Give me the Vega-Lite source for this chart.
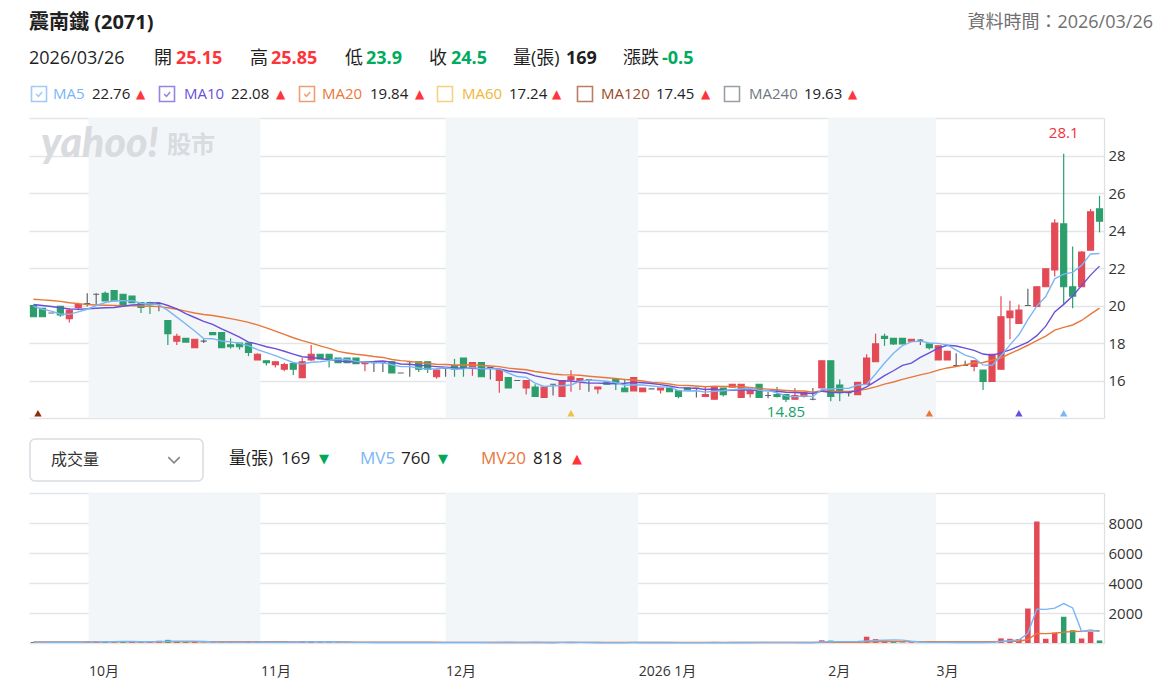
{
"$schema":"https://vega.github.io/schema/vega-lite/v6.json",
"background":"white",
"padding":{"left":28,"top":0,"right":0,"bottom":0},
"spacing":0,
"bounds":"flush",
"config":{"view":{"stroke":null},"font":"Open Sans, Noto Sans CJK TC, sans-serif",
 "axis":{"gridColor":"#e3e5e8","gridWidth":1.3,"domainColor":"#dde0e4","domainWidth":1.3,"labelColor":"#333333","ticks":false,"title":null,"labelOverlap":false}},
"datasets":{
"months":[{"s":6.15,"e":25.33},{"s":46,"e":67.5},{"s":88.67,"e":100.75}],
"markers":[{"i":0.5,"m":"MA120"},{"i":60,"m":"MA60"},{"i":100,"m":"MA20"},{"i":110,"m":"MA10"},{"i":115,"m":"MA5"}],
"k":[
{"i":0,"d":"2025-09-22","o":20.0,"h":20.0,"l":19.4,"c":19.4,"v":60,"chg":-0.1,"ma5":19.95,"ma10":20.05,"ma20":20.33,"mv5":60,"mv20":65},
{"i":1,"d":"2025-09-23","o":19.85,"h":19.85,"l":19.4,"c":19.4,"v":45,"chg":0,"ma5":19.8,"ma10":20.0,"ma20":20.3,"mv5":55,"mv20":65},
{"i":2,"d":"2025-09-24","o":19.6,"h":19.6,"l":19.6,"c":19.6,"v":20,"chg":0.2,"ma5":19.7,"ma10":19.95,"ma20":20.27,"mv5":50,"mv20":65},
{"i":3,"d":"2025-09-25","o":19.95,"h":19.95,"l":19.4,"c":19.5,"v":55,"chg":-0.1,"ma5":19.55,"ma10":19.88,"ma20":20.22,"mv5":50,"mv20":65},
{"i":4,"d":"2025-09-26","o":19.3,"h":19.85,"l":19.1,"c":19.75,"v":70,"chg":0.25,"ma5":19.53,"ma10":19.82,"ma20":20.15,"mv5":50,"mv20":66},
{"i":5,"d":"2025-09-30","o":19.9,"h":20.15,"l":19.75,"c":20.05,"v":40,"chg":0.3,"ma5":19.66,"ma10":19.8,"ma20":20.1,"mv5":46,"mv20":66},
{"i":6,"d":"2025-10-01","o":20.1,"h":20.65,"l":19.95,"c":20.1,"v":90,"chg":0.05,"ma5":19.8,"ma10":19.82,"ma20":20.05,"mv5":55,"mv20":68},
{"i":7,"d":"2025-10-02","o":20.6,"h":20.65,"l":20.0,"c":20.6,"v":110,"chg":0.5,"ma5":20.0,"ma10":19.85,"ma20":20.03,"mv5":73,"mv20":70},
{"i":8,"d":"2025-10-03","o":20.65,"h":20.75,"l":20.25,"c":20.25,"v":85,"chg":-0.35,"ma5":20.15,"ma10":19.88,"ma20":20.01,"mv5":79,"mv20":72},
{"i":9,"d":"2025-10-07","o":20.8,"h":20.8,"l":20.25,"c":20.25,"v":120,"chg":0,"ma5":20.25,"ma10":19.89,"ma20":20.0,"mv5":89,"mv20":74},
{"i":10,"d":"2025-10-08","o":20.6,"h":20.6,"l":20.0,"c":20.05,"v":95,"chg":-0.2,"ma5":20.25,"ma10":19.96,"ma20":19.99,"mv5":100,"mv20":76},
{"i":11,"d":"2025-10-09","o":20.5,"h":20.5,"l":20.15,"c":20.15,"v":70,"chg":0.1,"ma5":20.26,"ma10":20.03,"ma20":19.98,"mv5":96,"mv20":77},
{"i":12,"d":"2025-10-13","o":20.15,"h":20.15,"l":19.6,"c":19.9,"v":60,"chg":-0.25,"ma5":20.12,"ma10":20.06,"ma20":19.97,"mv5":86,"mv20":77},
{"i":13,"d":"2025-10-14","o":20.15,"h":20.2,"l":19.55,"c":20.05,"v":75,"chg":0.15,"ma5":20.08,"ma10":20.12,"ma20":19.96,"mv5":84,"mv20":78},
{"i":14,"d":"2025-10-15","o":20.1,"h":20.1,"l":19.7,"c":20.1,"v":150,"chg":0.05,"ma5":20.05,"ma10":20.15,"ma20":19.94,"mv5":90,"mv20":80},
{"i":15,"d":"2025-10-16","o":19.2,"h":19.2,"l":17.9,"c":18.5,"v":210,"chg":-1.6,"ma5":19.74,"ma10":20.0,"ma20":19.88,"mv5":113,"mv20":82},
{"i":16,"d":"2025-10-17","o":18.1,"h":18.5,"l":17.9,"c":18.35,"v":130,"chg":-0.15,"ma5":19.38,"ma10":19.82,"ma20":19.8,"mv5":125,"mv20":84},
{"i":17,"d":"2025-10-20","o":18.25,"h":18.25,"l":18.05,"c":18.05,"v":60,"chg":-0.3,"ma5":19.01,"ma10":19.57,"ma20":19.7,"mv5":125,"mv20":84},
{"i":18,"d":"2025-10-21","o":17.75,"h":18.2,"l":17.75,"c":18.2,"v":80,"chg":0.15,"ma5":18.64,"ma10":19.36,"ma20":19.6,"mv5":126,"mv20":84},
{"i":19,"d":"2025-10-22","o":18.1,"h":18.2,"l":18.0,"c":18.1,"v":30,"chg":-0.1,"ma5":18.24,"ma10":19.15,"ma20":19.52,"mv5":102,"mv20":83},
{"i":20,"d":"2025-10-23","o":18.55,"h":18.55,"l":18.45,"c":18.45,"v":40,"chg":0.35,"ma5":18.23,"ma10":18.99,"ma20":19.47,"mv5":68,"mv20":82},
{"i":21,"d":"2025-10-27","o":18.55,"h":18.55,"l":17.75,"c":17.75,"v":90,"chg":-0.7,"ma5":18.11,"ma10":18.75,"ma20":19.39,"mv5":60,"mv20":84},
{"i":22,"d":"2025-10-28","o":17.9,"h":18.25,"l":17.7,"c":17.8,"v":50,"chg":0.05,"ma5":18.06,"ma10":18.54,"ma20":19.3,"mv5":58,"mv20":86},
{"i":23,"d":"2025-10-29","o":18.0,"h":18.0,"l":17.65,"c":17.8,"v":40,"chg":0,"ma5":17.98,"ma10":18.31,"ma20":19.21,"mv5":50,"mv20":85},
{"i":24,"d":"2025-10-30","o":18.0,"h":18.0,"l":17.3,"c":17.5,"v":70,"chg":-0.3,"ma5":17.86,"ma10":18.05,"ma20":19.1,"mv5":58,"mv20":85},
{"i":25,"d":"2025-10-31","o":17.1,"h":17.45,"l":17.1,"c":17.4,"v":60,"chg":-0.1,"ma5":17.65,"ma10":17.94,"ma20":18.97,"mv5":62,"mv20":86},
{"i":26,"d":"2025-11-03","o":17.05,"h":17.05,"l":16.8,"c":16.95,"v":45,"chg":-0.45,"ma5":17.49,"ma10":17.8,"ma20":18.81,"mv5":53,"mv20":84},
{"i":27,"d":"2025-11-04","o":16.85,"h":17.0,"l":16.7,"c":17.0,"v":40,"chg":0.05,"ma5":17.33,"ma10":17.7,"ma20":18.63,"mv5":51,"mv20":80},
{"i":28,"d":"2025-11-05","o":16.6,"h":16.95,"l":16.5,"c":16.85,"v":55,"chg":-0.15,"ma5":17.14,"ma10":17.56,"ma20":18.46,"mv5":54,"mv20":79},
{"i":29,"d":"2025-11-06","o":16.9,"h":16.9,"l":16.3,"c":16.6,"v":70,"chg":-0.25,"ma5":16.96,"ma10":17.41,"ma20":18.28,"mv5":54,"mv20":76},
{"i":30,"d":"2025-11-07","o":16.15,"h":17.2,"l":16.15,"c":17.0,"v":130,"chg":0.4,"ma5":16.88,"ma10":17.27,"ma20":18.13,"mv5":68,"mv20":78},
{"i":31,"d":"2025-11-10","o":17.1,"h":17.9,"l":17.05,"c":17.4,"v":110,"chg":0.4,"ma5":16.97,"ma10":17.23,"ma20":17.99,"mv5":81,"mv20":80},
{"i":32,"d":"2025-11-11","o":17.4,"h":17.4,"l":17.15,"c":17.15,"v":40,"chg":-0.25,"ma5":17.0,"ma10":17.17,"ma20":17.85,"mv5":81,"mv20":79},
{"i":33,"d":"2025-11-12","o":17.4,"h":17.4,"l":16.7,"c":17.15,"v":50,"chg":0,"ma5":17.06,"ma10":17.1,"ma20":17.71,"mv5":80,"mv20":78},
{"i":34,"d":"2025-11-13","o":17.2,"h":17.2,"l":16.95,"c":16.95,"v":35,"chg":-0.2,"ma5":17.13,"ma10":17.05,"ma20":17.55,"mv5":73,"mv20":72},
{"i":35,"d":"2025-11-14","o":17.2,"h":17.2,"l":16.95,"c":16.95,"v":30,"chg":0,"ma5":17.12,"ma10":17.0,"ma20":17.47,"mv5":53,"mv20":63},
{"i":36,"d":"2025-11-17","o":17.2,"h":17.2,"l":16.9,"c":16.9,"v":40,"chg":-0.05,"ma5":17.02,"ma10":17.0,"ma20":17.4,"mv5":39,"mv20":58},
{"i":37,"d":"2025-11-18","o":16.9,"h":17.0,"l":16.5,"c":17.0,"v":45,"chg":0.1,"ma5":16.99,"ma10":17.0,"ma20":17.35,"mv5":40,"mv20":58},
{"i":38,"d":"2025-11-19","o":16.95,"h":16.95,"l":16.45,"c":16.95,"v":20,"chg":-0.05,"ma5":16.95,"ma10":17.01,"ma20":17.28,"mv5":34,"mv20":55},
{"i":39,"d":"2025-11-20","o":16.95,"h":16.95,"l":16.45,"c":16.95,"v":25,"chg":0,"ma5":16.95,"ma10":17.04,"ma20":17.23,"mv5":32,"mv20":54},
{"i":40,"d":"2025-11-21","o":17.0,"h":17.0,"l":16.4,"c":16.4,"v":60,"chg":-0.55,"ma5":16.84,"ma10":16.98,"ma20":17.12,"mv5":38,"mv20":55},
{"i":41,"d":"2025-11-24","o":16.4,"h":16.4,"l":16.4,"c":16.4,"v":10,"chg":0,"ma5":16.74,"ma10":16.88,"ma20":17.06,"mv5":32,"mv20":51},
{"i":42,"d":"2025-11-25","o":17.0,"h":17.0,"l":16.2,"c":17.0,"v":30,"chg":0.6,"ma5":16.74,"ma10":16.87,"ma20":17.02,"mv5":29,"mv20":50},
{"i":43,"d":"2025-11-26","o":17.0,"h":17.0,"l":16.45,"c":16.6,"v":35,"chg":-0.4,"ma5":16.67,"ma10":16.81,"ma20":16.96,"mv5":32,"mv20":50},
{"i":44,"d":"2025-11-27","o":17.0,"h":17.0,"l":16.4,"c":16.6,"v":25,"chg":0,"ma5":16.6,"ma10":16.78,"ma20":16.91,"mv5":32,"mv20":48},
{"i":45,"d":"2025-11-28","o":16.2,"h":16.6,"l":16.1,"c":16.55,"v":40,"chg":-0.05,"ma5":16.63,"ma10":16.74,"ma20":16.87,"mv5":28,"mv20":47},
{"i":46,"d":"2025-12-01","o":16.65,"h":16.65,"l":16.2,"c":16.65,"v":15,"chg":0.1,"ma5":16.68,"ma10":16.71,"ma20":16.85,"mv5":29,"mv20":45},
{"i":47,"d":"2025-12-02","o":16.8,"h":17.15,"l":16.2,"c":16.6,"v":40,"chg":-0.05,"ma5":16.6,"ma10":16.67,"ma20":16.83,"mv5":31,"mv20":45},
{"i":48,"d":"2025-12-03","o":17.2,"h":17.2,"l":16.2,"c":16.7,"v":55,"chg":0.1,"ma5":16.62,"ma10":16.65,"ma20":16.83,"mv5":35,"mv20":45},
{"i":49,"d":"2025-12-04","o":16.7,"h":16.95,"l":16.25,"c":16.95,"v":35,"chg":0.25,"ma5":16.69,"ma10":16.65,"ma20":16.84,"mv5":37,"mv20":44},
{"i":50,"d":"2025-12-05","o":16.95,"h":16.95,"l":16.2,"c":16.2,"v":45,"chg":-0.75,"ma5":16.62,"ma10":16.63,"ma20":16.8,"mv5":38,"mv20":39},
{"i":51,"d":"2025-12-08","o":16.7,"h":16.7,"l":16.05,"c":16.7,"v":20,"chg":0.5,"ma5":16.63,"ma10":16.66,"ma20":16.77,"mv5":39,"mv20":35},
{"i":52,"d":"2025-12-09","o":16.0,"h":16.55,"l":15.35,"c":16.55,"v":70,"chg":-0.15,"ma5":16.62,"ma10":16.61,"ma20":16.74,"mv5":45,"mv20":36},
{"i":53,"d":"2025-12-10","o":16.15,"h":16.15,"l":15.6,"c":15.6,"v":60,"chg":-0.95,"ma5":16.4,"ma10":16.51,"ma20":16.66,"mv5":46,"mv20":37},
{"i":54,"d":"2025-12-11","o":16.0,"h":16.0,"l":16.0,"c":16.0,"v":10,"chg":0.4,"ma5":16.21,"ma10":16.45,"ma20":16.61,"mv5":41,"mv20":36},
{"i":55,"d":"2025-12-12","o":15.6,"h":16.0,"l":15.25,"c":16.0,"v":40,"chg":0,"ma5":16.17,"ma10":16.4,"ma20":16.57,"mv5":40,"mv20":36},
{"i":56,"d":"2025-12-15","o":15.65,"h":15.8,"l":15.15,"c":15.15,"v":55,"chg":-0.85,"ma5":15.86,"ma10":16.25,"ma20":16.48,"mv5":47,"mv20":37},
{"i":57,"d":"2025-12-16","o":15.1,"h":15.65,"l":15.1,"c":15.65,"v":45,"chg":0.5,"ma5":15.68,"ma10":16.15,"ma20":16.41,"mv5":42,"mv20":37},
{"i":58,"d":"2025-12-17","o":15.8,"h":15.8,"l":15.2,"c":15.8,"v":20,"chg":0.15,"ma5":15.72,"ma10":16.06,"ma20":16.35,"mv5":34,"mv20":37},
{"i":59,"d":"2025-12-18","o":15.15,"h":16.0,"l":15.15,"c":16.0,"v":60,"chg":0.2,"ma5":15.72,"ma10":15.97,"ma20":16.31,"mv5":44,"mv20":39},
{"i":60,"d":"2025-12-19","o":16.05,"h":16.55,"l":15.4,"c":16.2,"v":50,"chg":0.2,"ma5":15.76,"ma10":15.97,"ma20":16.3,"mv5":46,"mv20":38},
{"i":61,"d":"2025-12-22","o":16.0,"h":16.1,"l":15.5,"c":16.1,"v":30,"chg":-0.1,"ma5":15.95,"ma10":15.91,"ma20":16.28,"mv5":41,"mv20":39},
{"i":62,"d":"2025-12-23","o":16.05,"h":16.05,"l":15.4,"c":16.05,"v":20,"chg":-0.05,"ma5":16.03,"ma10":15.86,"ma20":16.23,"mv5":36,"mv20":39},
{"i":63,"d":"2025-12-24","o":15.55,"h":15.65,"l":15.3,"c":15.65,"v":25,"chg":-0.4,"ma5":16.0,"ma10":15.86,"ma20":16.19,"mv5":37,"mv20":38},
{"i":64,"d":"2025-12-26","o":15.9,"h":15.9,"l":15.8,"c":15.8,"v":15,"chg":0.15,"ma5":15.96,"ma10":15.84,"ma20":16.15,"mv5":28,"mv20":38},
{"i":65,"d":"2025-12-29","o":16.05,"h":16.05,"l":15.5,"c":15.85,"v":30,"chg":0.05,"ma5":15.89,"ma10":15.83,"ma20":16.11,"mv5":24,"mv20":37},
{"i":66,"d":"2025-12-30","o":15.6,"h":16.1,"l":15.4,"c":15.4,"v":40,"chg":-0.45,"ma5":15.75,"ma10":15.85,"ma20":16.05,"mv5":26,"mv20":38},
{"i":67,"d":"2025-12-31","o":15.45,"h":16.15,"l":15.45,"c":16.15,"v":60,"chg":0.75,"ma5":15.77,"ma10":15.9,"ma20":16.03,"mv5":34,"mv20":39},
{"i":68,"d":"2026-01-02","o":15.4,"h":15.6,"l":15.4,"c":15.6,"v":30,"chg":-0.55,"ma5":15.76,"ma10":15.88,"ma20":15.97,"mv5":35,"mv20":38},
{"i":69,"d":"2026-01-05","o":15.55,"h":15.55,"l":15.55,"c":15.55,"v":10,"chg":-0.05,"ma5":15.71,"ma10":15.84,"ma20":15.9,"mv5":34,"mv20":37},
{"i":70,"d":"2026-01-06","o":15.5,"h":15.6,"l":15.3,"c":15.6,"v":25,"chg":0.05,"ma5":15.66,"ma10":15.78,"ma20":15.87,"mv5":33,"mv20":36},
{"i":71,"d":"2026-01-07","o":15.6,"h":15.6,"l":15.4,"c":15.4,"v":20,"chg":-0.2,"ma5":15.66,"ma10":15.71,"ma20":15.81,"mv5":29,"mv20":36},
{"i":72,"d":"2026-01-08","o":15.45,"h":15.45,"l":15.05,"c":15.15,"v":45,"chg":-0.25,"ma5":15.46,"ma10":15.62,"ma20":15.74,"mv5":26,"mv20":35},
{"i":73,"d":"2026-01-09","o":15.6,"h":15.6,"l":15.5,"c":15.5,"v":15,"chg":0.35,"ma5":15.44,"ma10":15.6,"ma20":15.73,"mv5":23,"mv20":32},
{"i":74,"d":"2026-01-12","o":15.6,"h":15.6,"l":15.1,"c":15.6,"v":20,"chg":0.1,"ma5":15.45,"ma10":15.58,"ma20":15.71,"mv5":25,"mv20":33},
{"i":75,"d":"2026-01-13","o":15.15,"h":15.65,"l":15.15,"c":15.25,"v":25,"chg":-0.35,"ma5":15.38,"ma10":15.52,"ma20":15.67,"mv5":25,"mv20":32},
{"i":76,"d":"2026-01-14","o":15.0,"h":15.65,"l":15.0,"c":15.65,"v":40,"chg":0.4,"ma5":15.43,"ma10":15.55,"ma20":15.7,"mv5":29,"mv20":31},
{"i":77,"d":"2026-01-15","o":15.6,"h":15.6,"l":15.15,"c":15.25,"v":30,"chg":-0.4,"ma5":15.45,"ma10":15.46,"ma20":15.68,"mv5":26,"mv20":31},
{"i":78,"d":"2026-01-16","o":15.65,"h":15.8,"l":15.65,"c":15.8,"v":35,"chg":0.55,"ma5":15.51,"ma10":15.48,"ma20":15.68,"mv5":30,"mv20":31},
{"i":79,"d":"2026-01-19","o":15.1,"h":15.8,"l":15.1,"c":15.8,"v":60,"chg":0,"ma5":15.55,"ma10":15.5,"ma20":15.67,"mv5":38,"mv20":31},
{"i":80,"d":"2026-01-20","o":15.3,"h":15.45,"l":15.1,"c":15.45,"v":25,"chg":-0.35,"ma5":15.59,"ma10":15.49,"ma20":15.63,"mv5":38,"mv20":30},
{"i":81,"d":"2026-01-21","o":15.8,"h":15.8,"l":15.1,"c":15.1,"v":70,"chg":-0.35,"ma5":15.48,"ma10":15.46,"ma20":15.58,"mv5":44,"mv20":32},
{"i":82,"d":"2026-01-22","o":15.2,"h":15.4,"l":15.05,"c":15.2,"v":20,"chg":0.1,"ma5":15.47,"ma10":15.46,"ma20":15.54,"mv5":42,"mv20":32},
{"i":83,"d":"2026-01-23","o":15.25,"h":15.65,"l":15.1,"c":15.15,"v":30,"chg":-0.05,"ma5":15.34,"ma10":15.43,"ma20":15.51,"mv5":41,"mv20":32},
{"i":84,"d":"2026-01-26","o":15.25,"h":15.25,"l":14.85,"c":15.0,"v":55,"chg":-0.15,"ma5":15.18,"ma10":15.37,"ma20":15.47,"mv5":40,"mv20":34},
{"i":85,"d":"2026-01-27","o":15.0,"h":15.6,"l":15.0,"c":15.2,"v":35,"chg":0.2,"ma5":15.13,"ma10":15.36,"ma20":15.44,"mv5":42,"mv20":35},
{"i":86,"d":"2026-01-28","o":15.15,"h":15.35,"l":15.1,"c":15.35,"v":25,"chg":0.15,"ma5":15.18,"ma10":15.33,"ma20":15.44,"mv5":33,"mv20":34},
{"i":87,"d":"2026-01-29","o":15.0,"h":15.6,"l":14.95,"c":15.0,"v":30,"chg":-0.35,"ma5":15.14,"ma10":15.31,"ma20":15.38,"mv5":35,"mv20":32},
{"i":88,"d":"2026-01-30","o":15.6,"h":17.05,"l":15.6,"c":17.05,"v":180,"chg":2.05,"ma5":15.52,"ma10":15.43,"ma20":15.45,"mv5":65,"mv20":40},
{"i":89,"d":"2026-02-02","o":17.05,"h":17.05,"l":14.9,"c":15.15,"v":160,"chg":-1.9,"ma5":15.55,"ma10":15.37,"ma20":15.43,"mv5":86,"mv20":47},
{"i":90,"d":"2026-02-03","o":15.75,"h":16.05,"l":14.9,"c":15.35,"v":60,"chg":0.2,"ma5":15.58,"ma10":15.36,"ma20":15.42,"mv5":91,"mv20":49},
{"i":91,"d":"2026-02-04","o":15.35,"h":15.35,"l":15.15,"c":15.35,"v":20,"chg":0,"ma5":15.58,"ma10":15.38,"ma20":15.42,"mv5":90,"mv20":49},
{"i":92,"d":"2026-02-05","o":15.25,"h":15.9,"l":15.25,"c":15.9,"v":60,"chg":0.55,"ma5":15.76,"ma10":15.45,"ma20":15.46,"mv5":96,"mv20":50},
{"i":93,"d":"2026-02-06","o":15.8,"h":17.4,"l":15.8,"c":17.2,"v":420,"chg":1.3,"ma5":15.79,"ma10":15.66,"ma20":15.54,"mv5":144,"mv20":70},
{"i":94,"d":"2026-02-09","o":17.0,"h":18.5,"l":17.0,"c":17.95,"v":260,"chg":0.75,"ma5":16.35,"ma10":15.95,"ma20":15.66,"mv5":164,"mv20":82},
{"i":95,"d":"2026-02-10","o":18.35,"h":18.5,"l":17.85,"c":18.25,"v":180,"chg":0.3,"ma5":16.93,"ma10":16.26,"ma20":15.81,"mv5":188,"mv20":90},
{"i":96,"d":"2026-02-11","o":18.25,"h":18.25,"l":17.9,"c":17.95,"v":60,"chg":-0.3,"ma5":17.45,"ma10":16.52,"ma20":15.92,"mv5":196,"mv20":91},
{"i":97,"d":"2026-02-23","o":18.25,"h":18.25,"l":17.95,"c":17.95,"v":40,"chg":0,"ma5":17.86,"ma10":16.81,"ma20":16.06,"mv5":192,"mv20":91},
{"i":98,"d":"2026-02-24","o":18.1,"h":18.2,"l":18.1,"c":18.2,"v":50,"chg":0.25,"ma5":18.06,"ma10":16.93,"ma20":16.18,"mv5":118,"mv20":92},
{"i":99,"d":"2026-02-25","o":18.15,"h":18.2,"l":17.9,"c":18.15,"v":25,"chg":-0.05,"ma5":18.1,"ma10":17.23,"ma20":16.3,"mv5":71,"mv20":90},
{"i":100,"d":"2026-02-26","o":17.95,"h":17.95,"l":17.65,"c":17.75,"v":45,"chg":-0.4,"ma5":18.0,"ma10":17.47,"ma20":16.41,"mv5":44,"mv20":91},
{"i":101,"d":"2026-03-02","o":17.1,"h":17.85,"l":17.1,"c":17.85,"v":60,"chg":0.1,"ma5":17.98,"ma10":17.72,"ma20":16.55,"mv5":44,"mv20":91},
{"i":102,"d":"2026-03-03","o":17.1,"h":17.55,"l":17.1,"c":17.55,"v":40,"chg":-0.3,"ma5":17.9,"ma10":17.88,"ma20":16.67,"mv5":44,"mv20":92},
{"i":103,"d":"2026-03-04","o":16.8,"h":17.45,"l":16.8,"c":16.8,"v":20,"chg":-0.75,"ma5":17.62,"ma10":17.84,"ma20":16.75,"mv5":38,"mv20":91},
{"i":104,"d":"2026-03-05","o":16.8,"h":17.05,"l":16.8,"c":16.8,"v":15,"chg":0,"ma5":17.35,"ma10":17.73,"ma20":16.84,"mv5":36,"mv20":89},
{"i":105,"d":"2026-03-06","o":16.75,"h":17.05,"l":16.5,"c":17.05,"v":30,"chg":0.25,"ma5":17.21,"ma10":17.61,"ma20":16.93,"mv5":33,"mv20":89},
{"i":106,"d":"2026-03-09","o":16.55,"h":16.55,"l":15.5,"c":15.95,"v":70,"chg":-1.1,"ma5":16.83,"ma10":17.41,"ma20":16.96,"mv5":35,"mv20":91},
{"i":107,"d":"2026-03-10","o":15.95,"h":17.4,"l":15.95,"c":17.4,"v":80,"chg":1.45,"ma5":16.8,"ma10":17.35,"ma20":17.08,"mv5":43,"mv20":94},
{"i":108,"d":"2026-03-11","o":16.6,"h":20.5,"l":16.6,"c":19.4,"v":310,"chg":2.0,"ma5":17.32,"ma10":17.47,"ma20":17.2,"mv5":101,"mv20":100},
{"i":109,"d":"2026-03-12","o":19.35,"h":20.25,"l":18.2,"c":19.7,"v":280,"chg":0.3,"ma5":17.9,"ma10":17.63,"ma20":17.43,"mv5":154,"mv20":106},
{"i":110,"d":"2026-03-13","o":19.05,"h":20.05,"l":19.05,"c":19.75,"v":260,"chg":0.05,"ma5":18.44,"ma10":17.83,"ma20":17.65,"mv5":200,"mv20":116},
{"i":111,"d":"2026-03-16","o":20.0,"h":20.9,"l":20.0,"c":20.0,"v":2300,"chg":0.25,"ma5":19.25,"ma10":18.04,"ma20":17.88,"mv5":646,"mv20":230},
{"i":112,"d":"2026-03-17","o":19.95,"h":21.0,"l":19.95,"c":21.0,"v":8100,"chg":1.0,"ma5":19.97,"ma10":18.39,"ma20":18.13,"mv5":2250,"mv20":632},
{"i":113,"d":"2026-03-18","o":21.0,"h":22.0,"l":21.0,"c":21.95,"v":280,"chg":0.95,"ma5":20.48,"ma10":18.9,"ma20":18.37,"mv5":2244,"mv20":625},
{"i":114,"d":"2026-03-19","o":21.9,"h":24.6,"l":21.55,"c":24.4,"v":700,"chg":2.45,"ma5":21.42,"ma10":19.66,"ma20":18.69,"mv5":2328,"mv20":647},
{"i":115,"d":"2026-03-20","o":24.35,"h":28.1,"l":20.05,"c":21.0,"v":1750,"chg":-3.4,"ma5":21.67,"ma10":20.06,"ma20":18.83,"mv5":2626,"mv20":726},
{"i":116,"d":"2026-03-23","o":21.0,"h":23.15,"l":19.85,"c":20.5,"v":850,"chg":-0.5,"ma5":21.77,"ma10":20.51,"ma20":18.96,"mv5":2336,"mv20":765},
{"i":117,"d":"2026-03-24","o":21.0,"h":22.9,"l":21.0,"c":22.85,"v":300,"chg":2.35,"ma5":22.14,"ma10":21.06,"ma20":19.2,"mv5":776,"mv20":778},
{"i":118,"d":"2026-03-25","o":22.95,"h":25.15,"l":22.95,"c":25.0,"v":750,"chg":2.15,"ma5":22.75,"ma10":21.62,"ma20":19.54,"mv5":870,"mv20":813},
{"i":119,"d":"2026-03-26","o":25.15,"h":25.85,"l":23.9,"c":24.5,"v":169,"chg":-0.5,"ma5":22.77,"ma10":22.1,"ma20":19.86,"mv5":764,"mv20":820}
]},
"vconcat":[
{
 "width":1075,"height":118,
 "data":{"values":[{}]},
 "layer":[
  {"mark":{"type":"text","x":0,"y":23,"text":"震南鐵 (2071)","fontSize":20,"fontWeight":"bold","color":"#1f1f1f","align":"left","baseline":"middle"}},
  {"mark":{"type":"text","x":1124,"y":23,"text":"資料時間：2026/03/26","fontSize":18,"color":"#6f6f6f","align":"right","baseline":"middle"}},
  {"mark":{"type":"text","x":0,"y":59,"text":"2026/03/26","fontSize":18,"color":"#1f1f1f","align":"left","baseline":"middle"}},
  {"mark":{"type":"text","x":125,"y":59,"text":"開","fontSize":18,"color":"#1f1f1f","align":"left","baseline":"middle"}},
  {"mark":{"type":"text","x":147,"y":59,"text":"25.15","fontSize":18,"fontWeight":"bold","color":"#ff333a","align":"left","baseline":"middle"}},
  {"mark":{"type":"text","x":221,"y":59,"text":"高","fontSize":18,"color":"#1f1f1f","align":"left","baseline":"middle"}},
  {"mark":{"type":"text","x":242,"y":59,"text":"25.85","fontSize":18,"fontWeight":"bold","color":"#ff333a","align":"left","baseline":"middle"}},
  {"mark":{"type":"text","x":316,"y":59,"text":"低","fontSize":18,"color":"#1f1f1f","align":"left","baseline":"middle"}},
  {"mark":{"type":"text","x":337,"y":59,"text":"23.9","fontSize":18,"fontWeight":"bold","color":"#00ab5e","align":"left","baseline":"middle"}},
  {"mark":{"type":"text","x":400,"y":59,"text":"收","fontSize":18,"color":"#1f1f1f","align":"left","baseline":"middle"}},
  {"mark":{"type":"text","x":422,"y":59,"text":"24.5","fontSize":18,"fontWeight":"bold","color":"#00ab5e","align":"left","baseline":"middle"}},
  {"mark":{"type":"text","x":484,"y":59,"text":"量(張)","fontSize":18,"color":"#1f1f1f","align":"left","baseline":"middle"}},
  {"mark":{"type":"text","x":537,"y":59,"text":"169","fontSize":18,"fontWeight":"bold","color":"#1f1f1f","align":"left","baseline":"middle"}},
  {"mark":{"type":"text","x":594,"y":59,"text":"漲跌","fontSize":18,"color":"#1f1f1f","align":"left","baseline":"middle"}},
  {"mark":{"type":"text","x":633,"y":59,"text":"-0.5","fontSize":18,"fontWeight":"bold","color":"#00ab5e","align":"left","baseline":"middle"}},
  {"mark":{"type":"point","shape":"square","x":10,"y":94,"size":225,"filled":false,"color":"#7ab6f5","strokeWidth":1.6}},
  {"mark":{"type":"point","shape":"M-0.55,0L-0.1,0.45L0.6,-0.4","x":10,"y":94,"size":110,"filled":false,"color":"#7ab6f5","strokeWidth":1.5}},
  {"mark":{"type":"point","shape":"square","x":138,"y":94,"size":225,"filled":false,"color":"#6a4fd8","strokeWidth":1.6}},
  {"mark":{"type":"point","shape":"M-0.55,0L-0.1,0.45L0.6,-0.4","x":138,"y":94,"size":110,"filled":false,"color":"#6a4fd8","strokeWidth":1.5}},
  {"mark":{"type":"point","shape":"square","x":278,"y":94,"size":225,"filled":false,"color":"#e8783a","strokeWidth":1.6}},
  {"mark":{"type":"point","shape":"M-0.55,0L-0.1,0.45L0.6,-0.4","x":278,"y":94,"size":110,"filled":false,"color":"#e8783a","strokeWidth":1.5}},
  {"mark":{"type":"point","shape":"square","x":416,"y":94,"size":225,"filled":false,"color":"#f0c04b","strokeWidth":1.6}},
  {"mark":{"type":"point","shape":"square","x":556,"y":94,"size":225,"filled":false,"color":"#9b4a26","strokeWidth":1.6}},
  {"mark":{"type":"point","shape":"square","x":703,"y":94,"size":225,"filled":false,"color":"#6f7782","strokeWidth":1.6}},
  {"mark":{"type":"text","x":24,"y":94,"text":"MA5","fontSize":15,"color":"#7ab6f5","align":"left","baseline":"middle"}},
  {"mark":{"type":"text","x":63,"y":94,"text":"22.76","fontSize":15,"color":"#222222","align":"left","baseline":"middle"}},
  {"mark":{"type":"text","x":107,"y":94,"text":"▲","font":"DejaVu Sans","fontSize":12,"color":"#ff333a","align":"left","baseline":"middle"}},
  {"mark":{"type":"text","x":155,"y":94,"text":"MA10","fontSize":15,"color":"#6a4fd8","align":"left","baseline":"middle"}},
  {"mark":{"type":"text","x":202,"y":94,"text":"22.08","fontSize":15,"color":"#222222","align":"left","baseline":"middle"}},
  {"mark":{"type":"text","x":247,"y":94,"text":"▲","font":"DejaVu Sans","fontSize":12,"color":"#ff333a","align":"left","baseline":"middle"}},
  {"mark":{"type":"text","x":293,"y":94,"text":"MA20","fontSize":15,"color":"#e8783a","align":"left","baseline":"middle"}},
  {"mark":{"type":"text","x":341,"y":94,"text":"19.84","fontSize":15,"color":"#222222","align":"left","baseline":"middle"}},
  {"mark":{"type":"text","x":386,"y":94,"text":"▲","font":"DejaVu Sans","fontSize":12,"color":"#ff333a","align":"left","baseline":"middle"}},
  {"mark":{"type":"text","x":433,"y":94,"text":"MA60","fontSize":15,"color":"#f0b73a","align":"left","baseline":"middle"}},
  {"mark":{"type":"text","x":480,"y":94,"text":"17.24","fontSize":15,"color":"#222222","align":"left","baseline":"middle"}},
  {"mark":{"type":"text","x":523,"y":94,"text":"▲","font":"DejaVu Sans","fontSize":12,"color":"#ff333a","align":"left","baseline":"middle"}},
  {"mark":{"type":"text","x":572,"y":94,"text":"MA120","fontSize":15,"color":"#9b4a26","align":"left","baseline":"middle"}},
  {"mark":{"type":"text","x":627,"y":94,"text":"17.45","fontSize":15,"color":"#222222","align":"left","baseline":"middle"}},
  {"mark":{"type":"text","x":672,"y":94,"text":"▲","font":"DejaVu Sans","fontSize":12,"color":"#ff333a","align":"left","baseline":"middle"}},
  {"mark":{"type":"text","x":720,"y":94,"text":"MA240","fontSize":15,"color":"#6f7782","align":"left","baseline":"middle"}},
  {"mark":{"type":"text","x":775,"y":94,"text":"19.63","fontSize":15,"color":"#222222","align":"left","baseline":"middle"}},
  {"mark":{"type":"text","x":819,"y":94,"text":"▲","font":"DejaVu Sans","fontSize":12,"color":"#ff333a","align":"left","baseline":"middle"}}
 ]
},
{
 "width":1075,"height":300,
 "data":{"name":"k"},
 "layer":[
  {"data":{"name":"months"},"mark":{"type":"rect","color":"#f3f6f9"},
   "encoding":{"x":{"field":"s","type":"quantitative","scale":{"domain":[-0.5,119.5],"nice":false,"zero":false,"padding":0},"axis":null},"x2":{"field":"e"}}},
  {"data":{"values":[{}]},"mark":{"type":"text","x":12,"y":27,"text":"yahoo!","font":"Lato","fontSize":41,"fontWeight":900,"fontStyle":"italic","color":"#d9dbdf","align":"left","baseline":"middle"}},
  {"data":{"values":[{}]},"mark":{"type":"text","x":138,"y":28,"text":"股市","fontSize":24,"fontWeight":"bold","color":"#d9dbdf","align":"left","baseline":"middle"}},
  {"mark":{"type":"rule","strokeWidth":1.2},
   "encoding":{"x":{"field":"i","type":"quantitative"},
    "y":{"field":"l","type":"quantitative","scale":{"domain":[14,30],"nice":false,"zero":false},
     "axis":{"orient":"right","values":[14,16,18,20,22,24,26,28,30],"tickCount":30,"format":"d","labelOverlap":false,"labelExpr":"datum.value == 14 || datum.value == 30 ? '' : datum.label","grid":true,"labelFontSize":15,"labelPadding":4}},
    "y2":{"field":"h"},
    "color":{"condition":[{"test":"datum.c > datum.o","value":"#e34a55"},{"test":"datum.c < datum.o","value":"#2b9e6c"}],"value":"#5e6368"}}},
  {"mark":{"type":"bar","size":6,"strokeWidth":1.2},
   "encoding":{"x":{"field":"i","type":"quantitative"},"y":{"field":"o","type":"quantitative"},"y2":{"field":"c"},
    "fill":{"condition":[{"test":"datum.c > datum.o","value":"#e34a55"},{"test":"datum.c < datum.o","value":"#2b9e6c"}],"value":"#5e6368"},
    "stroke":{"condition":[{"test":"datum.c > datum.o","value":"#e34a55"},{"test":"datum.c < datum.o","value":"#2b9e6c"}],"value":"#5e6368"}}},
  {"mark":{"type":"line","color":"#e8783a","strokeWidth":1.4},"encoding":{"x":{"field":"i","type":"quantitative"},"y":{"field":"ma20","type":"quantitative"}}},
  {"mark":{"type":"line","color":"#6a4fd8","strokeWidth":1.4},"encoding":{"x":{"field":"i","type":"quantitative"},"y":{"field":"ma10","type":"quantitative"}}},
  {"mark":{"type":"line","color":"#7ab6f5","strokeWidth":1.4},"encoding":{"x":{"field":"i","type":"quantitative"},"y":{"field":"ma5","type":"quantitative"}}},
  {"data":{"name":"markers"},"mark":{"type":"point","shape":"triangle-up","filled":true,"size":55,"opacity":1},
   "encoding":{"x":{"field":"i","type":"quantitative"},"y":{"datum":14.25},
    "color":{"field":"m","type":"nominal","scale":{"domain":["MA5","MA10","MA20","MA60","MA120"],"range":["#7ab6f5","#6a4fd8","#e8783a","#f0c04b","#8b2e10"]},"legend":null}}},
  {"data":{"values":[{"i":115,"p":28.1,"t":"28.1"}]},"mark":{"type":"text","color":"#f0323c","fontSize":15,"dy":-21},
   "encoding":{"x":{"field":"i","type":"quantitative"},"y":{"field":"p","type":"quantitative"},"text":{"field":"t"}}},
  {"data":{"values":[{"i":84,"p":14.85,"t":"14.85"}]},"mark":{"type":"text","color":"#14a16a","fontSize":15,"dy":10},
   "encoding":{"x":{"field":"i","type":"quantitative"},"y":{"field":"p","type":"quantitative"},"text":{"field":"t"}}}
 ]
},
{
 "width":1075,"height":75,
 "data":{"values":[{}]},
 "layer":[
  {"mark":{"type":"rect","x":1,"x2":174,"y":21,"y2":63,"cornerRadius":5,"fill":"white","stroke":"#d8dce2","strokeWidth":1.5}},
  {"mark":{"type":"text","x":22,"y":42,"text":"成交量","fontSize":16,"color":"#333333","align":"left","baseline":"middle"}},
  {"mark":{"type":"point","shape":"M-1,-0.5L0,0.5L1,-0.5","x":145,"y":42,"size":130,"filled":false,"color":"#555555","strokeWidth":1.6}},
  {"mark":{"type":"text","x":200,"y":41,"text":"量(張)","fontSize":17,"color":"#1f1f1f","align":"left","baseline":"middle"}},
  {"mark":{"type":"text","x":252,"y":41,"text":"169","fontSize":17,"color":"#1f1f1f","align":"left","baseline":"middle"}},
  {"mark":{"type":"text","x":290,"y":41,"text":"▼","font":"DejaVu Sans","fontSize":13,"color":"#00a85a","align":"left","baseline":"middle"}},
  {"mark":{"type":"text","x":331,"y":41,"text":"MV5","fontSize":17,"color":"#7ab6f5","align":"left","baseline":"middle"}},
  {"mark":{"type":"text","x":372,"y":41,"text":"760","fontSize":17,"color":"#1f1f1f","align":"left","baseline":"middle"}},
  {"mark":{"type":"text","x":409,"y":41,"text":"▼","font":"DejaVu Sans","fontSize":13,"color":"#00a85a","align":"left","baseline":"middle"}},
  {"mark":{"type":"text","x":452,"y":41,"text":"MV20","fontSize":17,"color":"#e8783a","align":"left","baseline":"middle"}},
  {"mark":{"type":"text","x":504,"y":41,"text":"818","fontSize":17,"color":"#1f1f1f","align":"left","baseline":"middle"}},
  {"mark":{"type":"text","x":543,"y":41,"text":"▲","font":"DejaVu Sans","fontSize":13,"color":"#ff333a","align":"left","baseline":"middle"}}
 ]
},
{
 "width":1075,"height":150,
 "data":{"name":"k"},
 "layer":[
  {"data":{"name":"months"},"mark":{"type":"rect","color":"#f3f6f9"},
   "encoding":{"x":{"field":"s","type":"quantitative","scale":{"domain":[-0.5,119.5],"nice":false,"zero":false,"padding":0},
     "axis":{"values":[6.15,25.33,46,67.5,88.67,100.75],"tickCount":30,"labelExpr":"datum.value < 10 ? '10月' : datum.value < 30 ? '11月' : datum.value < 50 ? '12月' : datum.value < 70 ? '2026 1月' : datum.value < 90 ? '2月' : '3月'","labelAlign":"left","labelBaseline":"top","labelPadding":21,"labelFontSize":14,"labelFlush":false,"domain":false,"grid":false}},
    "x2":{"field":"e"}}},
  {"mark":{"type":"bar","size":5.5},
   "encoding":{"x":{"field":"i","type":"quantitative"},
    "y":{"field":"v","type":"quantitative","scale":{"domain":[0,10000],"nice":false},
     "axis":{"orient":"right","values":[0,2000,4000,6000,8000,10000],"tickCount":30,"labelOverlap":false,"format":"d","labelExpr":"datum.value == 0 || datum.value == 10000 ? '' : datum.label","grid":true,"labelFontSize":15,"labelPadding":4}},
    "color":{"condition":[{"test":"datum.chg > 0","value":"#e34a55"},{"test":"datum.chg < 0","value":"#2b9e6c"}],"value":"#8a8f94"}}},
  {"mark":{"type":"line","color":"#e8783a","strokeWidth":1.4},"encoding":{"x":{"field":"i","type":"quantitative"},"y":{"field":"mv20","type":"quantitative"}}},
  {"mark":{"type":"line","color":"#7ab6f5","strokeWidth":1.4},"encoding":{"x":{"field":"i","type":"quantitative"},"y":{"field":"mv5","type":"quantitative"}}}
 ]
}
]
}
